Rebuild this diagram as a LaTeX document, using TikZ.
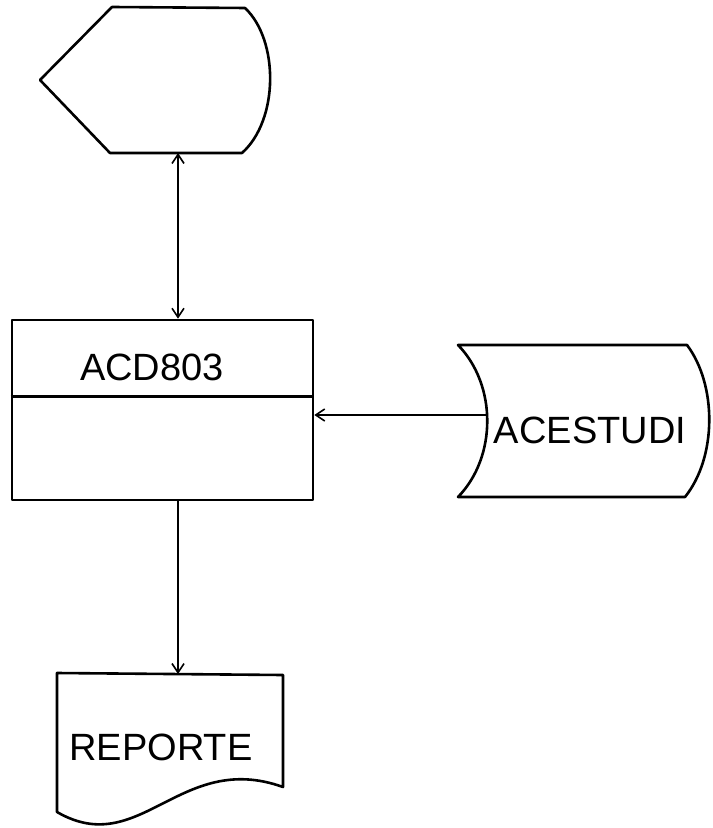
\documentclass[tikz,border=0pt]{standalone}
\usepackage{fontspec}
\setmainfont{Liberation Sans}
\usetikzlibrary{arrows.meta,calc,positioning}

\begin{document}
\begin{tikzpicture}[x=0.5pt,y=-0.5pt,>={Straight Barb[length=4.5pt,width=6pt]},line join=round,
  font=\fontsize{19}{22}\selectfont,
  outline/.style={line width=1.3pt},
  flow/.style={line width=0.8pt}]
\useasboundingbox (0,0) rectangle (712,828);
% display symbol
\draw[outline] (40,80) -- (112,7) -- (245,8) .. controls (279,40) and (279,120) .. (242,153) -- (110,153) -- cycle;
\coordinate (dispbot) at (178,153);
% process box ACD803
\node[draw,outline,minimum width=150.5pt,minimum height=90pt,inner sep=0pt] (proc) at (162.5,410) {};
\draw[outline] ($(proc.north west)+(0,78)$) -- ($(proc.north east)+(0,78)$);
\node (proclbl) at (152,367) {ACD803};
% stored data ACESTUDI
\draw[outline] (458,345) -- (687,345) .. controls (717,385) and (717,457) .. (685,497) -- (458,497) .. controls (497,457) and (497,385) .. cycle;
\coordinate (storein) at (487,415);
\node (storelbl) at (590,430) {ACESTUDI};
% document REPORTE
\draw[outline] (57,673) -- (283,675) -- (283,787) .. controls (180,750) and (140,860) .. (57,812) -- cycle;
\coordinate (doctop) at (178,674);
\node (doclbl) at (161,747) {REPORTE};
% connectors
\draw[flow,<->] (dispbot) -- (dispbot |- proc.north);
\draw[flow,->] (storein) -- (storein -| proc.east);
\draw[flow,->] (proc.south -| doctop) -- (doctop);
\end{tikzpicture}
\end{document}
